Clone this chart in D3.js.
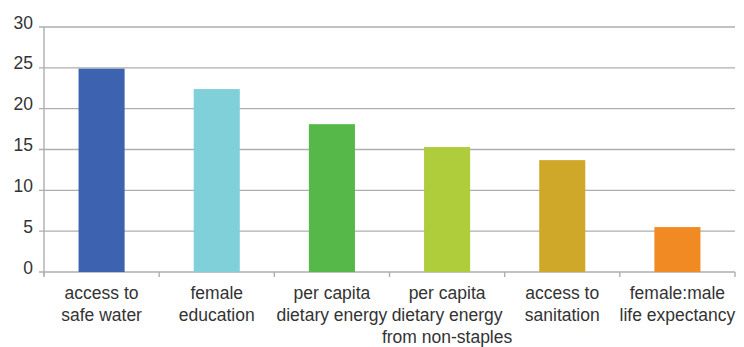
<!DOCTYPE html>
<html lang="en">
  <head>
    <meta charset="UTF-8" />
    <title>bar chart</title>
    <style>
      body { margin: 0; background: #fff; }
      text { font-family: "Liberation Sans", Arial, sans-serif; fill: #333; }
    </style>
  </head>
  <body>
    <svg width="744" height="347" xmlns="http://www.w3.org/2000/svg"></svg>
    <script src="https://cdn.jsdelivr.net/npm/d3@7"></script>
    <script>
      const categories = [
        ["access to", "safe water"],
        ["female", "education"],
        ["per capita", "dietary energy"],
        ["per capita", "dietary energy", "from non-staples"],
        ["access to", "sanitation"],
        ["female:male", "life expectancy"]
      ];
      const values = [24.9, 22.4, 18.1, 15.3, 13.7, 5.5];
      const colors = ["#3d62b0", "#7fd0d8", "#55b848", "#afcd3a", "#cfa82a", "#f28a24"];
      const yTicks = [0, 5, 10, 15, 20, 25, 30];

      const svg = d3.select("svg");
      const plotLeft = 44, plotRight = 735, plotTop = 27, plotBottom = 272;

      const x = d3.scaleBand()
        .domain(d3.range(categories.length))
        .range([plotLeft, plotRight])
        .paddingInner(0.6)
        .paddingOuter(0.3);
      const y = d3.scaleLinear().domain([0, 30]).range([plotBottom, plotTop]);

      // gridlines
      svg.append("g")
        .selectAll("line")
        .data(yTicks)
        .join("line")
        .attr("x1", plotLeft - 5)
        .attr("x2", plotRight)
        .attr("y1", d => y(d))
        .attr("y2", d => y(d))
        .style("stroke", "#aeaeae")
        .style("stroke-width", 1.4);

      // y axis line
      svg.append("line")
        .attr("x1", plotLeft).attr("x2", plotLeft)
        .attr("y1", plotTop).attr("y2", plotBottom + 4)
        .style("stroke", "#aeaeae")
        .style("stroke-width", 1.4);

      // y tick labels
      svg.append("g")
        .selectAll("text")
        .data(yTicks)
        .join("text")
        .attr("x", 33)
        .attr("y", d => y(d) + 1.5)
        .attr("text-anchor", "end")
        .style("font-size", "17.5px")
        .text(d => d);

      // bars
      svg.append("g")
        .selectAll("rect")
        .data(values)
        .join("rect")
        .attr("x", (d, i) => x(i))
        .attr("width", x.bandwidth())
        .attr("y", d => y(d))
        .attr("height", d => y(0) - y(d))
        .style("fill", (d, i) => colors[i]);

      // category boundary ticks
      const bounds = d3.range(categories.length + 1)
        .map(i => plotLeft + i * (plotRight - plotLeft) / categories.length);
      svg.append("g")
        .selectAll("line")
        .data(bounds)
        .join("line")
        .attr("x1", d => d).attr("x2", d => d)
        .attr("y1", plotBottom).attr("y2", plotBottom + 5)
        .style("stroke", "#aeaeae")
        .style("stroke-width", 1.4);

      // category labels
      const labels = svg.append("g")
        .selectAll("text")
        .data(categories)
        .join("text")
        .attr("text-anchor", "middle")
        .style("font-size", "17.5px");
      labels.selectAll("tspan")
        .data((d, i) => d.map(t => ({ t, i })))
        .join("tspan")
        .attr("x", d => x(d.i) + x.bandwidth() / 2)
        .attr("y", (d, j) => 299 + j * 22)
        .text(d => d.t);
    </script>
  </body>
</html>
